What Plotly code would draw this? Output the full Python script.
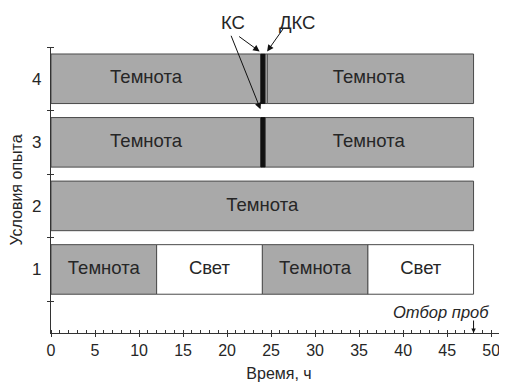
import plotly.graph_objects as go

# ---- data ----
row_labels = ["1", "2", "3", "4"]

# segments: row, start, end (hours)
dark_rows   = [4, 4, 3, 3, 2, 1, 1]
dark_start  = [0, 24.55, 0, 24.3, 0, 0, 24]
dark_end    = [23.85, 48, 23.85, 48, 48, 12, 36]

light_rows  = [1, 1]
light_start = [12, 36]
light_end   = [24, 48]

kc_rows  = [4, 3]
kc_start = [23.85, 23.85]
kc_end   = [24.3, 24.3]

dks_rows  = [4]
dks_start = [24.3]
dks_end   = [24.55]

label_rows = [4, 4, 3, 3, 2, 1, 1, 1, 1]
label_x    = [10.8, 36.1, 10.8, 36.1, 24, 6, 18, 30, 42]
label_text = ["Темнота", "Темнота", "Темнота", "Темнота", "Темнота",
              "Темнота", "Свет", "Темнота", "Свет"]

sample_time = 48
x_ticks = [0, 5, 10, 15, 20, 25, 30, 35, 40, 45, 50]

FONT = "Liberation Sans, Arial, sans-serif"
TXT = "#262626"
EDGE = "#4a4a4a"
BAR_W = 0.78

def seg_trace(r, s, e, fill, edge, lw=1):
    return go.Bar(
        orientation="h", y=r, base=s, x=[b - a for a, b in zip(s, e)],
        width=BAR_W, marker=dict(color=fill, line=dict(color=edge, width=lw)),
        hoverinfo="skip", showlegend=False,
    )

fig = go.Figure()
fig.add_trace(seg_trace(dark_rows, dark_start, dark_end, "#a9a9a9", EDGE))
fig.add_trace(seg_trace(light_rows, light_start, light_end, "#ffffff", EDGE))
fig.add_trace(seg_trace(dks_rows, dks_start, dks_end, "#cfcfcf", EDGE))
fig.add_trace(seg_trace(kc_rows, kc_start, kc_end, "#111111", "#111111"))

fig.add_trace(go.Scatter(
    x=label_x, y=label_rows, text=label_text, mode="text",
    textfont=dict(family=FONT, size=18.5, color=TXT),
    hoverinfo="skip", showlegend=False,
))
# dummy trace for the overlay axis (outer half of y ticks)
fig.add_trace(go.Scatter(x=[None], y=[None], yaxis="y2", showlegend=False,
                         hoverinfo="skip"))

ann = []
# КС / ДКС labels
ann.append(dict(text="КС", x=20.7, xref="x", y=1.084, yref="paper",
                yanchor="middle", showarrow=False,
                font=dict(family=FONT, size=18.5, color=TXT)))
ann.append(dict(text="ДКС", x=27.9, xref="x", y=1.084, yref="paper",
                yanchor="middle", showarrow=False,
                font=dict(family=FONT, size=18.5, color=TXT)))
# arrows
arrow_common = dict(showarrow=True, arrowhead=2, arrowsize=1.3, arrowwidth=1,
                    arrowcolor="#111111", text="", xref="x", yref="y")
ann.append(dict(x=23.7, y=4.43, ax=-22, ay=-16, **arrow_common))
ann.append(dict(x=23.8, y=3.52, ax=-30, ay=-75, **arrow_common))
ann.append(dict(x=24.55, y=4.43, ax=17, ay=-24, **arrow_common))
# sampling
ann.append(dict(text="<i>Отбор проб</i>", x=50.0, xref="x", y=0.33, yref="y",
                xanchor="right", yanchor="middle", showarrow=False,
                font=dict(family=FONT, size=16.5, color=TXT)))
ann.append(dict(x=sample_time, y=0.0, ax=0, ay=-14, showarrow=True,
                arrowhead=2, arrowsize=0.9, arrowwidth=1, arrowcolor="#111111",
                text="", xref="x", yref="y"))

# page body has an 8px margin, so the figure is sized/offset to compensate
fig.update_layout(
    width=499, height=375,
    margin=dict(l=43, r=0, t=39, b=50),
    paper_bgcolor="white", plot_bgcolor="white",
    barmode="overlay",
    font=dict(family=FONT, size=16, color=TXT),
    annotations=ann,
    xaxis=dict(
        range=[0, 51.8], showgrid=False, zeroline=False, automargin=False,
        showline=True, linecolor="#333333", linewidth=1.2,
        tickvals=x_ticks, ticks="outside", ticklen=3, tickcolor="#333333",
        tickfont=dict(family=FONT, size=16, color=TXT),
        minor=dict(dtick=1, tick0=0, ticks="inside", ticklen=3,
                   tickcolor="#333333", showgrid=False),
        title=dict(text="Время, ч", font=dict(family=FONT, size=16, color=TXT),
                   standoff=9),
    ),
    yaxis=dict(
        range=[0, 4.5], showgrid=False, zeroline=False, automargin=False,
        showline=True, linecolor="#333333", linewidth=1.2,
        tickvals=[1, 2, 3, 4], ticktext=row_labels, ticks="", ticklen=0,
        tickfont=dict(family=FONT, size=17, color=TXT),
        ticklabelstandoff=5,
        minor=dict(tickvals=[0.5, 1.5, 2.5, 3.5, 4.5], ticks="inside",
                   ticklen=3, tickcolor="#333333", showgrid=False),
        title=dict(text="Условия опыта", font=dict(family=FONT, size=16, color=TXT),
                   standoff=6),
    ),
    yaxis2=dict(
        overlaying="y", side="left", range=[0, 4.5], showgrid=False,
        zeroline=False, showline=False, automargin=False,
        tickvals=[0.5, 1.5, 2.5, 3.5, 4.5], ticktext=[""] * 5,
        ticks="outside", ticklen=3, tickcolor="#333333",
    ),
)

fig.write_html("out.html")
